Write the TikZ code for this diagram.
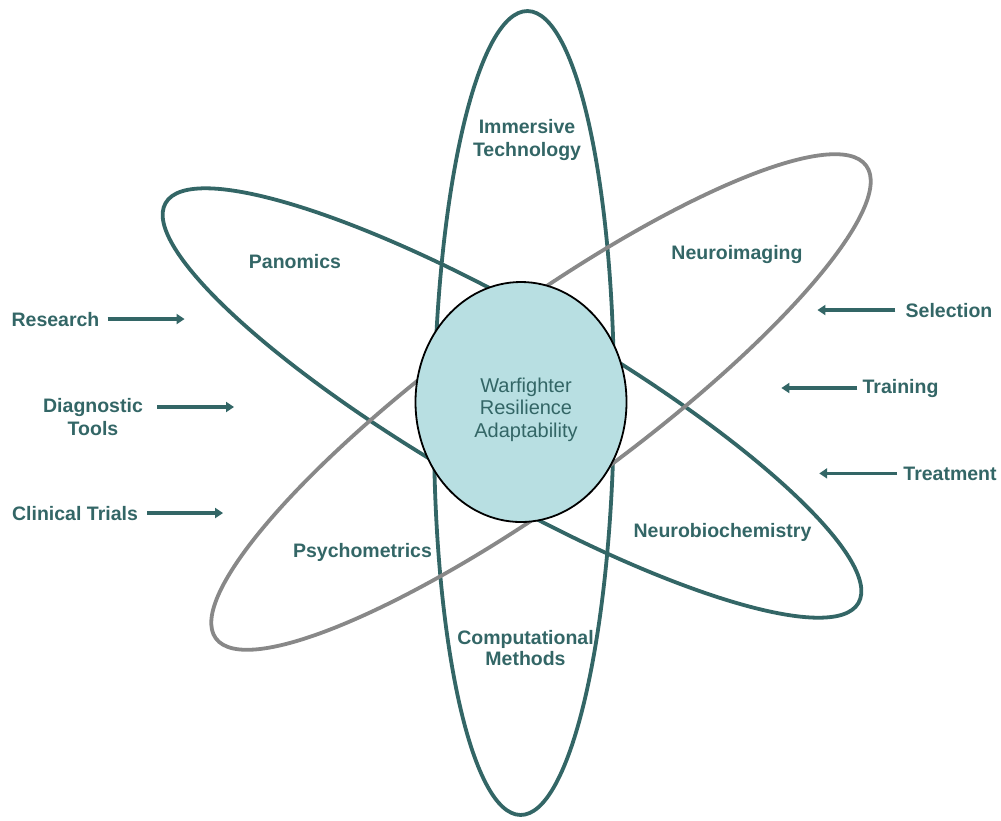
\documentclass[tikz,border=0pt]{standalone}
\usepackage{fontspec}
\setmainfont{Liberation Sans}
\usetikzlibrary{arrows.meta,shapes.geometric}
\definecolor{tealc}{HTML}{336666}
\definecolor{grayc}{HTML}{888888}
\definecolor{corefill}{HTML}{B8DFE2}
\begin{document}
\begin{tikzpicture}[x=1pt,y=-1pt,
  orbit/.style={draw=tealc, line width=3.8pt},
  orbitg/.style={draw=grayc, line width=3.8pt},
  lbl/.style={text=tealc, inner sep=0pt, align=center,
    font=\fontsize{19.5}{23}\selectfont\bfseries},
  arr/.style={draw=tealc, line width=3.2pt, -{Triangle[length=8pt,width=10pt]}},
]
\useasboundingbox (0,0) rectangle (1001,820);
% orbits
\draw[orbit, rotate around={-0.5:(524,413)}] (524,413) ellipse [x radius=90pt, y radius=402pt];
\draw[orbit, rotate around={-30:(512,403)}] (512,403) ellipse [x radius=400pt, y radius=90pt];
\draw[orbitg, rotate around={36:(541,402)}] (541,402) ellipse [x radius=402pt, y radius=92pt];
% core
\node[ellipse, draw=black, line width=1.8pt, fill=corefill, minimum width=211pt, minimum height=240pt, inner sep=0pt] (core) at (521,402) {};
\node[text=tealc, inner sep=0pt, align=center, font=\fontsize{20}{22.5}\selectfont] (coretext) at (526,409.5) {Warfighter\\Resilience\\Adaptability};
% orbit labels
\node[lbl] (imm) at (527,140) {Immersive\\Technology};
\node[lbl, anchor=base] (pan) at (295,268) {Panomics};
\node[lbl, anchor=base] (nim) at (737,259.5) {Neuroimaging};
\node[lbl, anchor=base] (nbc) at (722.5,537) {Neurobiochemistry};
\node[lbl, anchor=base] (psy) at (362.5,557) {Psychometrics};
\node[lbl, font=\fontsize{19.5}{21}\selectfont\bfseries] (cmp) at (525.5,648) {Computational\\Methods};
% side labels
\node[lbl, anchor=base] (res) at (55.5,326) {Research};
\node[lbl] (dia) at (93,417.5) {Diagnostic\\Tools};
\node[lbl, anchor=base] (cli) at (75,520) {Clinical Trials};
\node[lbl, anchor=base] (sel) at (949,317) {Selection};
\node[lbl, anchor=base] (tra) at (900.5,393) {Training};
\node[lbl, anchor=base] (tre) at (950,480) {Treatment};
% arrows
\draw[arr] (res.east) ++(8pt,0) -- ++(77pt,0) coordinate (resT);
\draw[arr] ([shift={(14pt,10.5pt)}]dia.east) -- ++(77pt,0) coordinate (diaT);
\draw[arr] (cli.east) ++(9pt,0) -- ++(76pt,0) coordinate (cliT);
\draw[arr] (sel.west) ++(-10pt,0) -- ++(-78pt,0) coordinate (selT);
\draw[arr] (tra.west) ++(-5pt,0) -- ++(-76pt,0) coordinate (traT);
\draw[arr] (tre.west) ++(-6pt,0) -- ++(-78pt,0) coordinate (treT);
\end{tikzpicture}
\end{document}
